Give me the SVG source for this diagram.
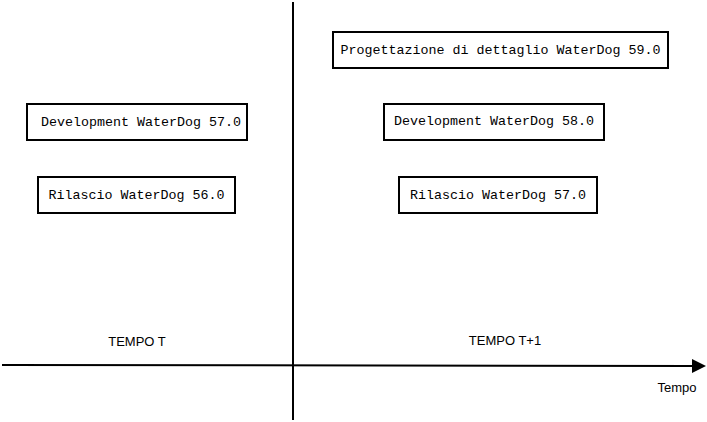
<svg xmlns="http://www.w3.org/2000/svg" width="707" height="422" viewBox="0 0 707 422">
<style>
.box{fill:#fff;stroke:#000;stroke-width:2}
.mono{font-family:"Liberation Mono","DejaVu Sans Mono",monospace;font-size:13.33px;fill:#000;text-anchor:middle;dominant-baseline:central}
.sans{font-family:"Liberation Sans",Arial,sans-serif;font-size:13px;fill:#000;text-anchor:middle;dominant-baseline:central}
.ln{stroke:#000;stroke-width:2;fill:none}
</style>
<defs>
<marker id="arr" markerWidth="14" markerHeight="14" refX="1" refY="7" orient="auto" markerUnits="userSpaceOnUse" viewBox="0 0 14 14">
<path d="M0,0 L14,7 L0,14 Z" fill="#000"/>
</marker>
</defs>
<rect width="707" height="422" fill="#fff"/>
<g id="connectors">
<line class="ln" x1="293" y1="2" x2="293" y2="420"/>
<line class="ln" x1="2" y1="365" x2="693" y2="366" marker-end="url(#arr)"/>
</g>
<g id="n1"><rect class="box" x="333" y="32" width="335" height="36"/><text class="mono" x="500.5" y="50">Progettazione di dettaglio WaterDog 59.0</text></g>
<g id="n2"><rect class="box" x="27" y="104" width="220" height="36"/><text class="mono" x="141" y="122">Development WaterDog 57.0</text></g>
<g id="n3"><rect class="box" x="38" y="177" width="197" height="36"/><text class="mono" x="136.5" y="195">Rilascio WaterDog 56.0</text></g>
<g id="n4"><rect class="box" x="384" y="104" width="220" height="36"/><text class="mono" x="494" y="121">Development WaterDog 58.0</text></g>
<g id="n5"><rect class="box" x="399" y="177" width="198" height="36"/><text class="mono" x="498" y="195">Rilascio WaterDog 57.0</text></g>
<g id="l1"><text class="sans" x="137" y="341">TEMPO T</text></g>
<g id="l2"><text class="sans" x="505" y="340">TEMPO T+1</text></g>
<g id="l3"><text class="sans" x="677" y="387">Tempo</text></g>
</svg>
